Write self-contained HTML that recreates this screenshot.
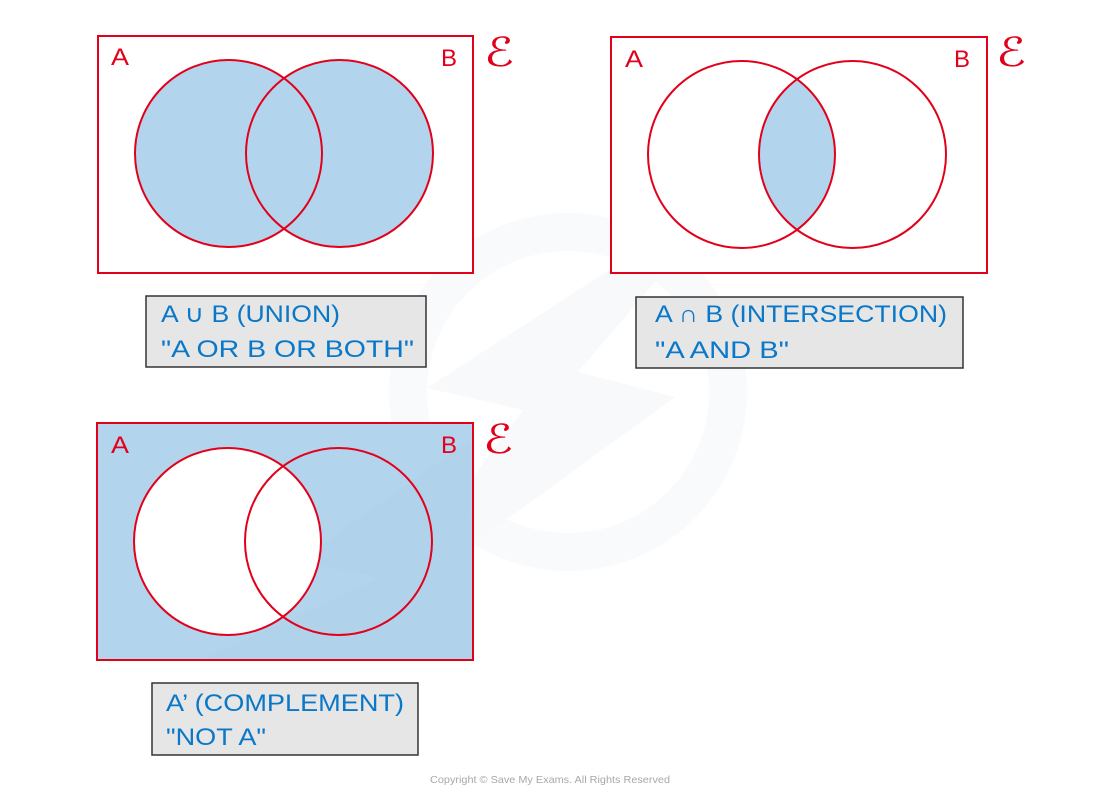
<!DOCTYPE html>
<html><head><meta charset="utf-8"><style>
html,body{margin:0;padding:0;background:#fff;}
svg{display:block;}
.lbl{font-family:"Liberation Sans","DejaVu Sans",sans-serif;font-size:24px;fill:#0a78c8;}
.ab{font-family:"Liberation Sans","DejaVu Sans",sans-serif;font-size:24px;fill:#e2001a;}
.e{font-family:"DejaVu Serif","DejaVu Sans",serif;font-size:40px;fill:#e2001a;font-style:italic;}
</style></head><body>
<svg width="1100" height="786" viewBox="0 0 1100 786" xmlns="http://www.w3.org/2000/svg">
<defs>
<clipPath id="cA2"><circle cx="741.5" cy="154.5" r="93.5"/></clipPath>
</defs>
<!-- watermark -->
<circle cx="568" cy="392" r="160" fill="none" stroke="#f8fafc" stroke-width="38"/>
<polygon points="737,187 427,388 523,410 362,625 675,397 578,372" fill="#f7f9fb"/>

<!-- Diagram 1: Union -->
<rect x="98" y="36" width="375" height="237" fill="#fff" stroke="#e2001a" stroke-width="2"/>
<circle cx="228.5" cy="153.5" r="93.5" fill="#b3d4ed"/>
<circle cx="339.5" cy="153.5" r="93.5" fill="#b3d4ed"/>
<circle cx="228.5" cy="153.5" r="93.5" fill="none" stroke="#e2001a" stroke-width="2"/>
<circle cx="339.5" cy="153.5" r="93.5" fill="none" stroke="#e2001a" stroke-width="2"/>
<text class="ab" x="111" y="65" textLength="18" lengthAdjust="spacingAndGlyphs">A</text>
<text class="ab" x="441" y="66" textLength="16" lengthAdjust="spacingAndGlyphs">B</text>
<text class="e" x="484" y="66" textLength="30" lengthAdjust="spacingAndGlyphs">ℰ</text>
<rect x="146" y="296" width="280" height="71" fill="#e6e6e6" stroke="#333" stroke-width="1.5"/>
<text class="lbl" x="161" y="322" textLength="179" lengthAdjust="spacingAndGlyphs">A ∪ B (UNION)</text>
<text class="lbl" x="161" y="357" textLength="253" lengthAdjust="spacingAndGlyphs">"A OR B OR BOTH"</text>

<!-- Diagram 2: Intersection -->
<rect x="611" y="37" width="376" height="236" fill="#fff" stroke="#e2001a" stroke-width="2"/>
<circle cx="852.5" cy="154.5" r="93.5" fill="#b3d4ed" clip-path="url(#cA2)"/>
<circle cx="741.5" cy="154.5" r="93.5" fill="none" stroke="#e2001a" stroke-width="2"/>
<circle cx="852.5" cy="154.5" r="93.5" fill="none" stroke="#e2001a" stroke-width="2"/>
<text class="ab" x="625" y="67" textLength="18" lengthAdjust="spacingAndGlyphs">A</text>
<text class="ab" x="954" y="67" textLength="16" lengthAdjust="spacingAndGlyphs">B</text>
<text class="e" x="996" y="66" textLength="30" lengthAdjust="spacingAndGlyphs">ℰ</text>
<rect x="636" y="297" width="327" height="71" fill="#e6e6e6" stroke="#333" stroke-width="1.5"/>
<text class="lbl" x="655" y="322" textLength="292" lengthAdjust="spacingAndGlyphs">A ∩ B (INTERSECTION)</text>
<text class="lbl" x="655" y="358" textLength="134" lengthAdjust="spacingAndGlyphs">"A AND B"</text>

<!-- Diagram 3: Complement -->
<rect x="97" y="423" width="376" height="237" fill="#b3d4ed" stroke="#e2001a" stroke-width="2"/>
<polygon points="470,440 300,560 380,578 200,660 473,660" fill="#aacde9" opacity="0.3"/>
<circle cx="227.5" cy="541.5" r="93.5" fill="#fff"/>
<circle cx="227.5" cy="541.5" r="93.5" fill="none" stroke="#e2001a" stroke-width="2"/>
<circle cx="338.5" cy="541.5" r="93.5" fill="none" stroke="#e2001a" stroke-width="2"/>
<rect x="97" y="423" width="376" height="237" fill="none" stroke="#e2001a" stroke-width="2"/>
<text class="ab" x="111" y="453" textLength="18" lengthAdjust="spacingAndGlyphs">A</text>
<text class="ab" x="441" y="453" textLength="16" lengthAdjust="spacingAndGlyphs">B</text>
<text class="e" x="483" y="453" textLength="30" lengthAdjust="spacingAndGlyphs">ℰ</text>
<rect x="152" y="683" width="266" height="72" fill="#e6e6e6" stroke="#333" stroke-width="1.5"/>
<text class="lbl" x="166" y="711" textLength="238" lengthAdjust="spacingAndGlyphs">A’ (COMPLEMENT)</text>
<text class="lbl" x="166" y="745" textLength="100" lengthAdjust="spacingAndGlyphs">"NOT A"</text>

<text x="430" y="783" font-family="Liberation Sans, sans-serif" font-size="10.5" fill="#a8a8a8" textLength="240" lengthAdjust="spacingAndGlyphs">Copyright © Save My Exams. All Rights Reserved</text>
</svg>
</body></html>
